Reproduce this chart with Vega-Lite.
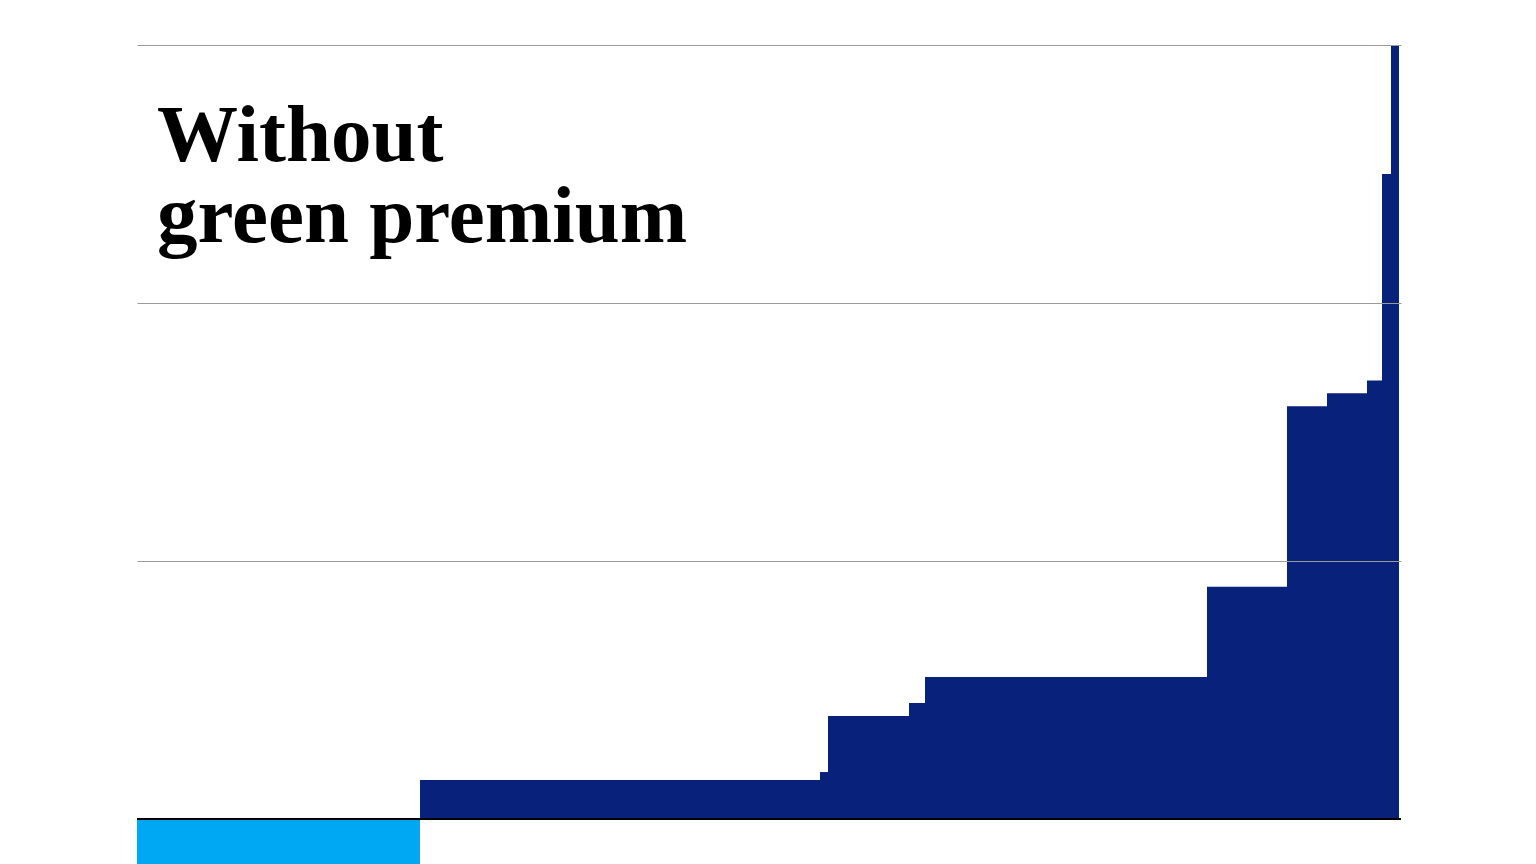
{
  "$schema": "https://vega.github.io/schema/vega-lite/v6.json",
  "width": 1264,
  "height": 819,
  "autosize": {"type": "none"},
  "padding": {"left": 137, "top": 45, "right": 135, "bottom": 0},
  "background": "white",
  "title": {
    "text": ["Without", "green premium"],
    "orient": "top",
    "anchor": "start",
    "frame": "group",
    "offset": 0,
    "dx": 20,
    "dy": 278,
    "baseline": "alphabetic",
    "font": "Liberation Serif",
    "fontSize": 81,
    "fontWeight": "bold",
    "lineHeight": 81,
    "color": "#000000"
  },
  "config": {"view": {"stroke": null}},
  "data": {
    "values": [
      {"start": 0, "end": 283, "cost": -20, "group": "negative"},
      {"start": 283, "end": 683, "cost": 15.1, "group": "positive"},
      {"start": 683, "end": 691, "cost": 18.2, "group": "positive"},
      {"start": 691, "end": 772, "cost": 39.9, "group": "positive"},
      {"start": 772, "end": 788, "cost": 45, "group": "positive"},
      {"start": 788, "end": 1070, "cost": 55, "group": "positive"},
      {"start": 1070, "end": 1150, "cost": 90, "group": "positive"},
      {"start": 1150, "end": 1190, "cost": 160, "group": "positive"},
      {"start": 1190, "end": 1230, "cost": 165, "group": "positive"},
      {"start": 1230, "end": 1245, "cost": 170, "group": "positive"},
      {"start": 1245, "end": 1254, "cost": 250, "group": "positive"},
      {"start": 1254, "end": 1262, "cost": 300, "group": "positive"}
    ]
  },
  "layer": [
    {
      "mark": {"type": "bar", "clip": true},
      "encoding": {
        "x": {
          "field": "start",
          "type": "quantitative",
          "scale": {"domain": [0, 1264], "nice": false, "zero": false},
          "axis": null
        },
        "x2": {"field": "end"},
        "y": {
          "field": "cost",
          "type": "quantitative",
          "scale": {"domain": [-17.44, 300], "nice": false},
          "axis": {
            "values": [100, 200, 300],
            "grid": true,
            "gridColor": "#9a9a9a",
            "gridWidth": 1,
            "labels": false,
            "ticks": false,
            "domain": false,
            "title": null,
            "zindex": 1
          }
        },
        "y2": {"datum": 0},
        "color": {
          "field": "group",
          "type": "nominal",
          "scale": {"domain": ["negative", "positive"], "range": ["#00a8f3", "#08217a"]},
          "legend": null
        }
      }
    },
    {
      "mark": {"type": "rule", "color": "#000000", "strokeWidth": 2},
      "encoding": {
        "y": {"datum": 0}
      }
    }
  ]
}
